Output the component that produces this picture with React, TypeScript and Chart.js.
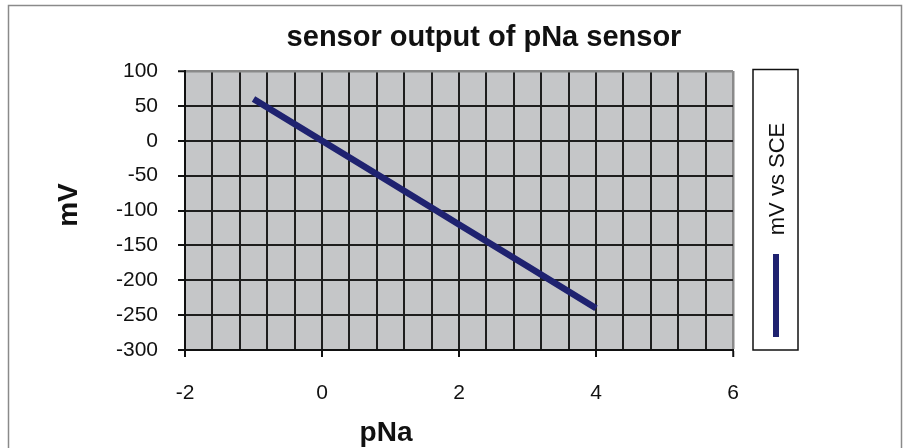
import React, { useEffect, useRef } from "react";
import { Chart, registerables } from "chart.js";

Chart.register(...registerables);

// ---- data ----
const pNaValues = [-1, 0, 1, 2, 3, 4];
const mVValues = [60, 0, -60, -120, -180, -240];
const chartTitle = "sensor output of pNa sensor";
const xAxisTitle = "pNa";
const yAxisTitle = "mV";
const seriesName = "mV vs SCE";
const xRange = [-2, 6];
const xGridStep = 0.4;
const xLabelStep = 2;
const yRange = [-300, 100];
const yStep = 50;

// ---- styles ----
const FONT = "'Liberation Sans', Arial, Helvetica, sans-serif";
const LINE_COLOR = "#1f2270";
const PLOT_BG = "#c5c6c8";
const GRID_DARK = "#1e1e1e";
const GRID_EDGE = "#8a8a8a";

const isMajorX = (v: number) => Math.abs(v / xLabelStep - Math.round(v / xLabelStep)) < 1e-6;

const decorPlugin = {
  id: "decor",
  beforeDraw(chart: any) {
    const { ctx, chartArea, width, height } = chart;
    ctx.save();
    ctx.fillStyle = "#ffffff";
    ctx.fillRect(0, 0, width, height);
    ctx.strokeStyle = "#8a8a8a";
    ctx.lineWidth = 1.5;
    ctx.strokeRect(8.5, 5.5, 893, 470);
    ctx.fillStyle = PLOT_BG;
    ctx.fillRect(chartArea.left, chartArea.top, chartArea.right - chartArea.left, chartArea.bottom - chartArea.top);
    ctx.restore();
  },
  afterDraw(chart: any) {
    const { ctx } = chart;
    ctx.save();
    ctx.fillStyle = "#111";
    // chart title
    ctx.font = `bold 29px ${FONT}`;
    ctx.textAlign = "center";
    ctx.textBaseline = "alphabetic";
    ctx.fillText(chartTitle, 484, 46);
    // axis titles
    ctx.font = `bold 28px ${FONT}`;
    ctx.fillText(xAxisTitle, 386, 441);
    ctx.save();
    ctx.translate(77, 205);
    ctx.rotate(-Math.PI / 2);
    ctx.fillText(yAxisTitle, 0, 0);
    ctx.restore();
    // legend
    ctx.fillStyle = "#ffffff";
    ctx.fillRect(753, 69.5, 45, 280.5);
    ctx.strokeStyle = "#111";
    ctx.lineWidth = 1.5;
    ctx.strokeRect(753, 69.5, 45, 280.5);
    ctx.save();
    ctx.translate(784, 179);
    ctx.rotate(-Math.PI / 2);
    ctx.fillStyle = "#111";
    ctx.font = `22px ${FONT}`;
    ctx.textAlign = "center";
    ctx.fillText(seriesName, 0, 0);
    ctx.restore();
    ctx.strokeStyle = LINE_COLOR;
    ctx.lineWidth = 6;
    ctx.beginPath();
    ctx.moveTo(776, 254);
    ctx.lineTo(776, 337);
    ctx.stroke();
    ctx.restore();
  },
};

export default function App() {
  const ref = useRef<HTMLCanvasElement | null>(null);
  useEffect(() => {
    const canvas = ref.current!;
    const chart = new Chart(canvas, {
      type: "scatter",
      data: {
        datasets: [
          {
            label: seriesName,
            data: pNaValues.map((x, i) => ({ x, y: mVValues[i] })),
            showLine: true,
            borderColor: LINE_COLOR,
            backgroundColor: LINE_COLOR,
            borderWidth: 6.5,
            borderCapStyle: "butt",
            pointRadius: 0,
            pointHoverRadius: 0,
            tension: 0,
          } as any,
        ],
      },
      options: {
        responsive: false,
        animation: false,
        devicePixelRatio: 1,
        events: [],
        layout: { padding: { left: 0, top: 71, right: 176, bottom: 0 } },
        plugins: {
          legend: { display: false },
          title: { display: false },
          tooltip: { enabled: false },
        },
        scales: {
          x: {
            type: "linear",
            position: "bottom",
            min: xRange[0],
            max: xRange[1],
            afterFit: (s: any) => {
              s.height = 98;
            },
            ticks: {
              stepSize: xGridStep,
              autoSkip: false,
              maxRotation: 0,
              minRotation: 0,
              padding: 24,
              color: "#111",
              font: { family: FONT, size: 21 },
              callback: (v: any) => (isMajorX(Number(v)) ? String(Math.round(Number(v))) : ""),
            },
            grid: {
              color: (c: any) => (c.tick && Math.abs(c.tick.value - xRange[1]) < 1e-6 ? GRID_EDGE : GRID_DARK),
              lineWidth: (c: any) => (c.tick && Math.abs(c.tick.value - xRange[1]) < 1e-6 ? 2.5 : 2),
              tickColor: (c: any) => (c.tick && isMajorX(c.tick.value) ? "#111" : "rgba(0,0,0,0)"),
              tickLength: 7,
              tickWidth: 2,
            },
            border: { display: true, color: "#111", width: 2 },
          },
          y: {
            type: "linear",
            min: yRange[0],
            max: yRange[1],
            afterFit: (s: any) => {
              s.width = 185;
            },
            ticks: {
              stepSize: yStep,
              autoSkip: false,
              padding: 20,
              color: "#111",
              font: { family: FONT, size: 21 },
            },
            grid: {
              color: (c: any) => (c.tick && c.tick.value === yRange[1] ? GRID_EDGE : GRID_DARK),
              lineWidth: (c: any) => (c.tick && c.tick.value === yRange[1] ? 2.5 : 2),
              tickColor: "#111",
              tickLength: 7,
              tickWidth: 2,
            },
            border: { display: true, color: "#111", width: 2 },
          },
        },
      },
      plugins: [decorPlugin],
    });
    return () => chart.destroy();
  }, []);

  return (
    <div style={{ position: "fixed", left: 0, top: 0, width: 909, height: 448, background: "#fff" }}>
      <canvas ref={ref} width={909} height={448} style={{ display: "block", width: 909, height: 448 }} />
    </div>
  );
}
